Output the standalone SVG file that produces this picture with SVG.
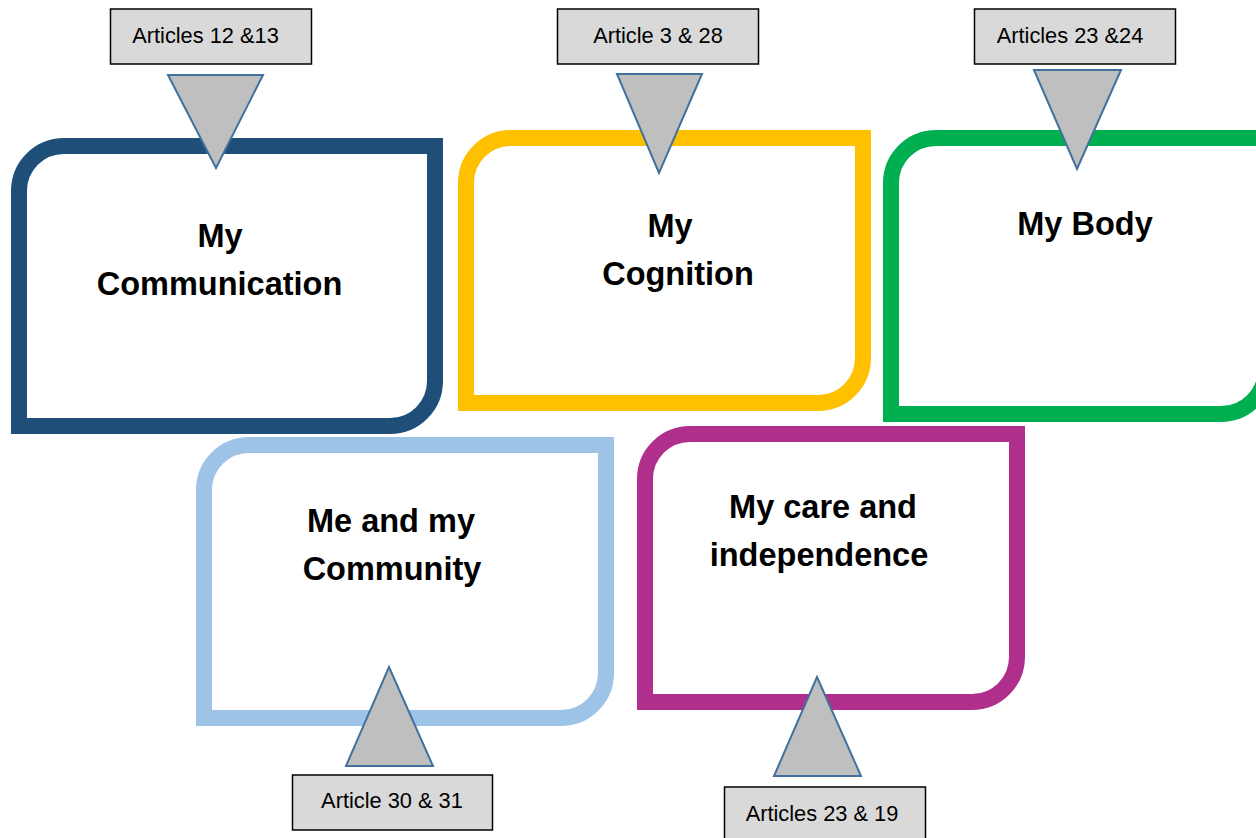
<svg xmlns="http://www.w3.org/2000/svg" width="1256" height="838" viewBox="0 0 1256 838">
<style>
.box{fill:#FFFFFF;stroke-width:16;stroke-linejoin:miter}
.title{font-family:"Liberation Sans",Arial,sans-serif;font-weight:bold;font-size:32.5px;fill:#000;text-anchor:middle}
.lbl rect{fill:#D9D9D9;stroke:#000;stroke-width:1.5}
.lbl text{font-family:"Liberation Sans",Arial,sans-serif;font-size:21.8px;fill:#000;text-anchor:middle}
.tri{fill:#BFBFBF;stroke:#41719C;stroke-width:2;stroke-linejoin:miter}
</style>
<rect width="1256" height="838" fill="#FFFFFF"/>
<g id="node-communication">
<path class="box" stroke="#1F4E79" d="M19,191 A45,45 0 0 1 64,146 L435,146 L435,381 A45,45 0 0 1 390,426 L19,426 Z"/>
<text class="title" x="220" y="247">My</text>
<text class="title" x="219.5" y="295">Communication</text>
</g>
<g id="node-cognition">
<path class="box" stroke="#FFC000" d="M466,183 A45,45 0 0 1 511,138 L863,138 L863,358 A45,45 0 0 1 818,403 L466,403 Z"/>
<text class="title" x="670" y="237">My</text>
<text class="title" x="678" y="285">Cognition</text>
</g>
<g id="node-body">
<path class="box" stroke="#00B050" d="M891,183 A45,45 0 0 1 936,138 L1266,138 L1266,369 A45,45 0 0 1 1221,414 L891,414 Z"/>
<text class="title" x="1085" y="235">My Body</text>
</g>
<g id="node-community">
<path class="box" stroke="#9DC3E6" d="M204,490 A45,45 0 0 1 249,445 L606,445 L606,673 A45,45 0 0 1 561,718 L204,718 Z"/>
<text class="title" x="391" y="532">Me and my</text>
<text class="title" x="392" y="580">Community</text>
</g>
<g id="node-care">
<path class="box" stroke="#B02F8C" d="M645,479 A45,45 0 0 1 690,434 L1017,434 L1017,657 A45,45 0 0 1 972,702 L645,702 Z"/>
<text class="title" x="823" y="518">My care and</text>
<text class="title" x="819" y="566">independence</text>
</g>
<g id="connectors">
<polygon class="tri" points="168,75 263,75 216,168"/>
<polygon class="tri" points="617,74 702,74 659,173"/>
<polygon class="tri" points="1034,70 1121,70 1077,169"/>
<polygon class="tri" points="389,667 433,766 346,766"/>
<polygon class="tri" points="817,677 861,776 774,776"/>
</g>
<g id="label-12-13" class="lbl">
<rect x="110.5" y="9" width="201" height="55"/>
<text x="205.5" y="43">Articles 12 &amp;13</text>
</g>
<g id="label-3-28" class="lbl">
<rect x="557.5" y="9" width="201" height="55"/>
<text x="658" y="43">Article 3 &amp; 28</text>
</g>
<g id="label-23-24" class="lbl">
<rect x="974.5" y="9" width="201" height="55"/>
<text x="1070" y="43">Articles 23 &amp;24</text>
</g>
<g id="label-30-31" class="lbl">
<rect x="292.5" y="775" width="200" height="55"/>
<text x="392" y="808">Article 30 &amp; 31</text>
</g>
<g id="label-23-19" class="lbl">
<rect x="724.5" y="787" width="201" height="60"/>
<text x="822" y="821">Articles 23 &amp; 19</text>
</g>
</svg>
